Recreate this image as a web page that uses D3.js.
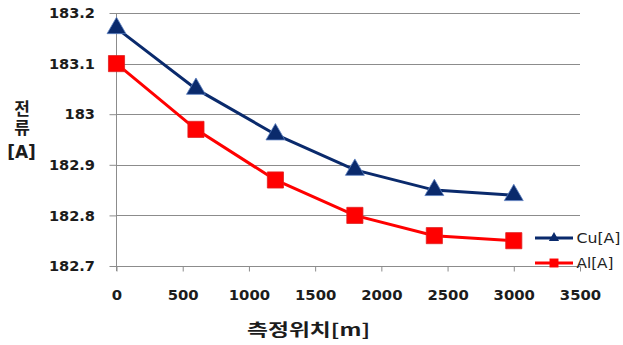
<!DOCTYPE html>
<html>
<head>
<meta charset="utf-8">
<script src="https://cdn.jsdelivr.net/npm/d3@7"></script>
<style>
  html, body { margin: 0; padding: 0; background: #fff; }
  svg { display: block; }
</style>
</head>
<body>
<svg id="chart" width="623" height="345"></svg>
<script>
// Measured current along the line, by position
const positions = [0, 600, 1200, 1800, 2400, 3000];
const cuValues = [183.17, 183.05, 182.96, 182.89, 182.85, 182.84];
const alValues = [183.10, 182.97, 182.87, 182.80, 182.76, 182.75];
const seriesNames = ["Cu[A]", "Al[A]"];
const xTicks = [0, 500, 1000, 1500, 2000, 2500, 3000, 3500];
const yTicks = [182.7, 182.8, 182.9, 183, 183.1, 183.2];
const xTitle = "측정위치[m]";
const yTitleWord = "전류";
const yTitleUnit = "[A]";

const svg = d3.select("#chart");
const plotLeft = 116.5, plotRight = 580, plotTop = 13, plotBottom = 266;

const x = d3.scaleLinear().domain([0, 3500]).range([plotLeft, plotRight]);
const y = d3.scaleLinear().domain([182.7, 183.2]).range([plotBottom, plotTop]);

const gridColor = "#8c8c8c";
const textColor = "#1c1c1c";
const labelFont = "'DejaVu Sans', Verdana, sans-serif";
const cjkFont = "'Noto Sans CJK KR', 'DejaVu Sans', sans-serif";

// horizontal gridlines
svg.append("g")
  .selectAll("line")
  .data(yTicks)
  .join("line")
  .attr("x1", plotLeft).attr("x2", plotRight)
  .attr("y1", d => Math.round(y(d)) + 0.5).attr("y2", d => Math.round(y(d)) + 0.5)
  .attr("stroke", gridColor).attr("stroke-width", 1);

// y axis
const yAxis = d3.axisLeft(y).tickValues(yTicks).tickSize(7).tickPadding(0)
  .tickFormat(d => String(+d.toFixed(1)));
const gy = svg.append("g").attr("transform", `translate(${plotLeft},0)`).call(yAxis);
gy.select(".domain").remove();
gy.append("line").attr("x1", 0).attr("x2", 0).attr("y1", plotTop).attr("y2", plotBottom + 5)
  .attr("stroke", gridColor);
gy.selectAll(".tick line").attr("stroke", gridColor);
gy.selectAll(".tick text")
  .attr("x", 0)
  .attr("transform", "translate(-21.5,0) scale(1.08,1)")
  .attr("fill", textColor)
  .attr("font-family", labelFont)
  .attr("font-weight", "bold")
  .attr("font-size", 13.5)
  .attr("dy", "0.35em");

// x axis
const xAxis = d3.axisBottom(x).tickValues(xTicks).tickSize(5).tickPadding(19)
  .tickFormat(d3.format(""));
const gx = svg.append("g").attr("transform", `translate(0,${plotBottom + 0.5})`).call(xAxis);
gx.select(".domain").remove();
gx.selectAll(".tick line").attr("stroke", gridColor);
gx.selectAll(".tick text")
  .attr("transform", "scale(1.1,1)")
  .attr("fill", textColor)
  .attr("font-family", labelFont)
  .attr("font-weight", "bold")
  .attr("font-size", 13.5);

// x axis title
svg.append("text")
  .attr("x", 308.5).attr("y", 335.5)
  .attr("text-anchor", "middle")
  .attr("font-family", cjkFont)
  .attr("font-weight", "bold")
  .attr("font-size", 16.5)
  .attr("textLength", 123)
  .attr("lengthAdjust", "spacingAndGlyphs")
  .attr("fill", textColor)
  .text(xTitle);

// y axis title: stacked word, unit underneath
svg.append("text")
  .attr("x", 22).attr("y", 100)
  .attr("writing-mode", "vertical-rl")
  .attr("letter-spacing", 2)
  .attr("font-family", cjkFont)
  .attr("font-weight", "bold")
  .attr("font-size", 17)
  .attr("fill", textColor)
  .text(yTitleWord);
svg.append("text")
  .attr("x", 21.5).attr("y", 157.5)
  .attr("text-anchor", "middle")
  .attr("font-family", labelFont)
  .attr("font-weight", "bold")
  .attr("font-size", 17)
  .attr("fill", textColor)
  .text(yTitleUnit);

// series
const navy = "#0a2a6c";
const red = "#ff0000";
const series = [
  { name: seriesNames[0], values: cuValues, color: navy, shape: d3.symbolTriangle, size: 155, edge: "#5a7fc0" },
  { name: seriesNames[1], values: alValues, color: red, shape: d3.symbolSquare, size: 260, edge: "#e02020" }
];

const line = d3.line().x(d => x(d[0])).y(d => y(d[1]));

series.forEach(s => {
  const pts = positions.map((p, i) => [p, s.values[i]]);
  svg.append("path")
    .datum(pts)
    .attr("fill", "none")
    .attr("stroke", s.color)
    .attr("stroke-width", 3)
    .attr("d", line);
  svg.append("g")
    .selectAll("path")
    .data(pts)
    .join("path")
    .attr("transform", d => `translate(${x(d[0])},${y(d[1])})`)
    .attr("d", d3.symbol().type(s.shape).size(s.size))
    .attr("fill", s.color)
    .attr("stroke", s.edge)
    .attr("stroke-width", 0.8);
});

// legend
const legend = svg.append("g");
series.forEach((s, i) => {
  const ly = 238 + i * 25;
  legend.append("line")
    .attr("x1", 535).attr("x2", 573).attr("y1", ly).attr("y2", ly)
    .attr("stroke", s.color).attr("stroke-width", 3);
  legend.append("path")
    .attr("transform", `translate(554,${ly})`)
    .attr("d", d3.symbol().type(s.shape).size(s.shape === d3.symbolTriangle ? 45 : 80))
    .attr("fill", s.color);
  legend.append("text")
    .attr("x", 576.5).attr("y", ly)
    .attr("dy", "0.36em")
    .attr("font-family", labelFont)
    .attr("font-size", 14.5)
    .attr("textLength", i === 0 ? 44 : 37)
    .attr("lengthAdjust", "spacingAndGlyphs")
    .attr("fill", "#222")
    .text(s.name);
});
</script>
</body>
</html>
